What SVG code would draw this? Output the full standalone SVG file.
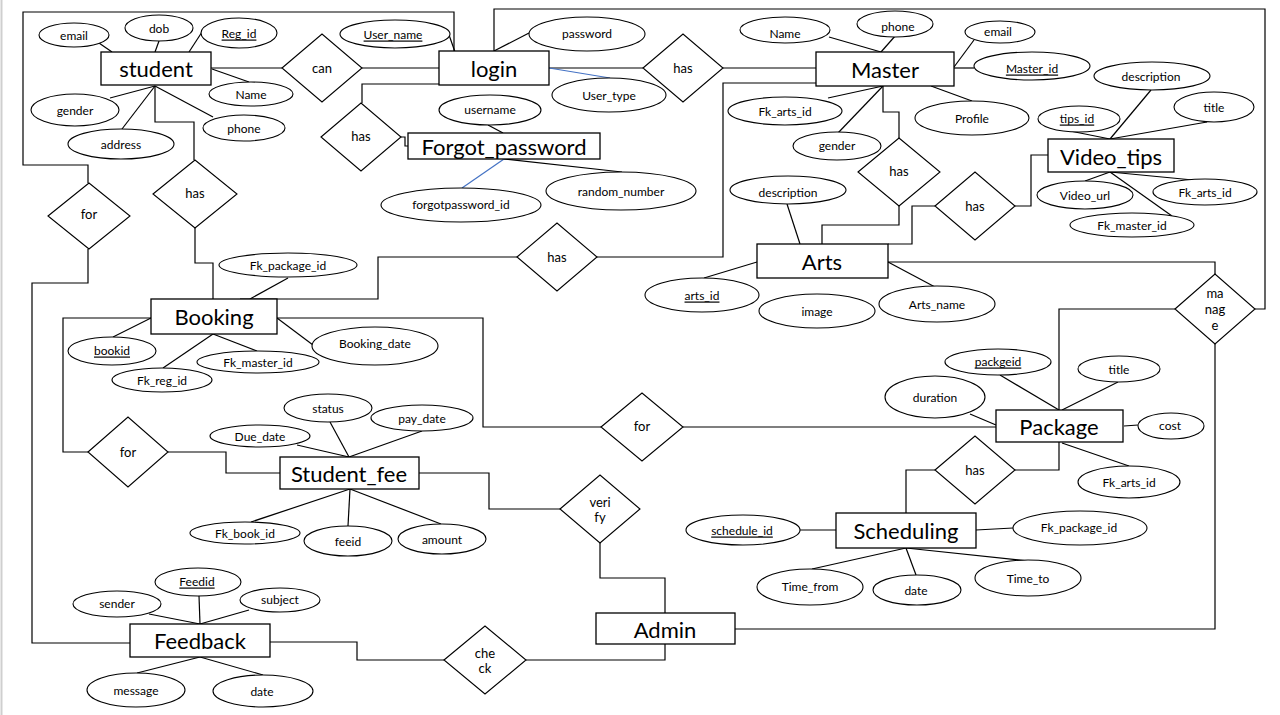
<svg xmlns="http://www.w3.org/2000/svg" width="1280" height="715" viewBox="0 0 1280 715">
<style>
.bg{fill:#ffffff}
.ent rect{fill:#ffffff;stroke:#000;stroke-width:1.3}
.ent text{font-family:Lato,"Open Sans","Liberation Sans",sans-serif;font-size:22px;fill:#000;text-anchor:middle;dominant-baseline:central}
.attr ellipse{fill:#ffffff;stroke:#000;stroke-width:1.1}
.attr text{font-family:Lato,"Open Sans","Liberation Sans",sans-serif;font-size:12px;fill:#000;text-anchor:middle;dominant-baseline:central}
.key text{text-decoration:underline}
.rel polygon{fill:#ffffff;stroke:#000;stroke-width:1.1}
.rel text{font-family:Lato,"Open Sans","Liberation Sans",sans-serif;font-size:13px;fill:#000;text-anchor:middle;dominant-baseline:central}
.conn path{fill:none;stroke:#000;stroke-width:1.2}
.conn path.blue{stroke:#4472C4}
</style>
<rect class="bg" x="0" y="0" width="1280" height="715"/>
<line x1="1.5" y1="0" x2="1.5" y2="715" stroke="#cfcfcf" stroke-width="2"/>

<g id="connectors" class="conn">
<path d="M454,51 V12 H23 V165 H88 V183"/>
<path d="M88,249 V283 H32 V643 H130"/>
<path d="M448,32 L455,52"/>
<path d="M211,68 H282"/>
<path d="M362,68 H439"/>
<path d="M439,84 H362 V103"/>
<path d="M401,137 H405 V146 H408"/>
<path d="M494,51 L529,33"/>
<path d="M494,51 V9 H1265 V309 H1255"/>
<path d="M549,68 H643"/>
<path d="M723,68 H816"/>
<path class="blue" d="M549,68 L610,78"/>
<path d="M488,125 L503,133"/>
<path class="blue" d="M504,159 L462,188"/>
<path d="M504,159 L622,172"/>
<path d="M99,43 L112,52"/>
<path d="M159,41 L155,52"/>
<path d="M202,32 L189,52"/>
<path d="M212,69 L249,82"/>
<path d="M110,98 L155,86"/>
<path d="M122,129 L155,86"/>
<path d="M213,117 L155,86"/>
<path d="M155,86 V122 H194 V160"/>
<path d="M195,228 V263 H213 V299"/>
<path d="M817,83 H723 V257 H597"/>
<path d="M517,257 H378 V299 H240"/>
<path d="M288,278 L250,299"/>
<path d="M829,37 L881,52"/>
<path d="M896,35 L881,52"/>
<path d="M974,40 L954,67"/>
<path d="M954,68 H974"/>
<path d="M828,98 L883,86"/>
<path d="M837,134 L883,86"/>
<path d="M931,86 L972,101"/>
<path d="M883,86 V112 H899 V138"/>
<path d="M899,206 V225 H822 V244"/>
<path d="M787,204 L800,244"/>
<path d="M1015,206 H1031 V155 H1048"/>
<path d="M935,206 H912 V244 H888"/>
<path d="M1070,131 L1110,139"/>
<path d="M1151,90 L1110,139"/>
<path d="M1207,122 L1110,139"/>
<path d="M1110,172 L1085,181"/>
<path d="M1110,172 L1193,180"/>
<path d="M1110,172 L1172,216"/>
<path d="M704,278 L757,262"/>
<path d="M888,262 L935,287"/>
<path d="M888,262 H1215 V274"/>
<path d="M1175,309 H1059 V410"/>
<path d="M735,629 H1215 V344"/>
<path d="M151,318 H63 V452 H88"/>
<path d="M168,452 H226 V473 H280"/>
<path d="M277,318 H483 V427 H601"/>
<path d="M683,427 H996"/>
<path d="M113,337 L151,318"/>
<path d="M163,368 L213,334"/>
<path d="M213,334 L257,351"/>
<path d="M277,318 L313,345"/>
<path d="M297,445 L349,457"/>
<path d="M330,422 L349,457"/>
<path d="M422,431 L349,457"/>
<path d="M350,489 L251,522"/>
<path d="M350,489 L348,526"/>
<path d="M350,489 L441,524"/>
<path d="M419,473 H489 V509 H560"/>
<path d="M600,543 V578 H665 V613"/>
<path d="M665,644 V660 H526"/>
<path d="M444,660 H357 V642 H270"/>
<path d="M149,614 L200,624"/>
<path d="M199,596 L200,624"/>
<path d="M249,610 L200,624"/>
<path d="M200,657 L137,673"/>
<path d="M200,657 L263,675"/>
<path d="M1000,375 L1059,410"/>
<path d="M1118,382 L1062,410"/>
<path d="M970,414 L996,425"/>
<path d="M1124,426 L1138,425"/>
<path d="M1062,443 L1129,466"/>
<path d="M1059,442 V470 H1015"/>
<path d="M935,470 H906 V513"/>
<path d="M800,530 H836"/>
<path d="M976,530 L1013,528"/>
<path d="M906,548 L812,569"/>
<path d="M906,548 L916,575"/>
<path d="M906,548 L1029,561"/>
</g>

<g id="student" class="ent"><rect x="101" y="52" width="110" height="33"/><text x="156" y="68">student</text></g>
<g id="login" class="ent"><rect x="439" y="51" width="110" height="34"/><text x="494" y="68">login</text></g>
<g id="forgot_password" class="ent"><rect x="408" y="133" width="192" height="26"/><text x="504" y="146">Forgot_password</text></g>
<g id="master" class="ent"><rect x="816" y="52" width="138" height="34"/><text x="885" y="69">Master</text></g>
<g id="video_tips" class="ent"><rect x="1048" y="139" width="126" height="33"/><text x="1111" y="156">Video_tips</text></g>
<g id="arts" class="ent"><rect x="757" y="244" width="131" height="34"/><text x="822" y="261">Arts</text></g>
<g id="booking" class="ent"><rect x="151" y="299" width="126" height="35"/><text x="214" y="316">Booking</text></g>
<g id="package" class="ent"><rect x="996" y="410" width="127" height="32"/><text x="1059" y="426">Package</text></g>
<g id="student_fee" class="ent"><rect x="280" y="457" width="139" height="32"/><text x="349" y="473">Student_fee</text></g>
<g id="scheduling" class="ent"><rect x="836" y="513" width="140" height="35"/><text x="906" y="530">Scheduling</text></g>
<g id="admin" class="ent"><rect x="596" y="613" width="139" height="31"/><text x="665" y="629">Admin</text></g>
<g id="feedback" class="ent"><rect x="130" y="624" width="140" height="33"/><text x="200" y="640">Feedback</text></g>

<g id="rel_can" class="rel"><polygon points="282,68 322,34 362,68 322,102"/><text x="322" y="68">can</text></g>
<g id="rel_has_forgot" class="rel"><polygon points="321,137 361,103 401,137 361,171"/><text x="361" y="136">has</text></g>
<g id="rel_has_master" class="rel"><polygon points="643,68 683,34 723,68 683,102"/><text x="683" y="68">has</text></g>
<g id="rel_for_feedback" class="rel"><polygon points="48,216 89,183 130,216 89,249"/><text x="89" y="214">for</text></g>
<g id="rel_has_booking" class="rel"><polygon points="153,194 195,160 237,194 195,228"/><text x="195" y="193">has</text></g>
<g id="rel_has_arts" class="rel"><polygon points="858,172 899,138 940,172 899,206"/><text x="899" y="171">has</text></g>
<g id="rel_has_video" class="rel"><polygon points="935,206 975,172 1015,206 975,240"/><text x="975" y="206">has</text></g>
<g id="rel_has_bm" class="rel"><polygon points="517,257 557,223 597,257 557,291"/><text x="557" y="257">has</text></g>
<g id="rel_manage" class="rel"><polygon points="1175,309 1215,274 1255,309 1215,344"/><text x="1215" y="293">ma</text><text x="1215" y="309">nag</text><text x="1215" y="325">e</text></g>
<g id="rel_for_fee" class="rel"><polygon points="88,452 128,417 168,452 128,487"/><text x="128" y="452">for</text></g>
<g id="rel_for_package" class="rel"><polygon points="601,427 642,393 683,427 642,461"/><text x="642" y="426">for</text></g>
<g id="rel_has_sched" class="rel"><polygon points="935,470 975,436 1015,470 975,504"/><text x="975" y="470">has</text></g>
<g id="rel_verify" class="rel"><polygon points="560,509 600,475 640,509 600,543"/><text x="600" y="502">veri</text><text x="600" y="517">fy</text></g>
<g id="rel_check" class="rel"><polygon points="444,660 485,626 526,660 485,694"/><text x="485" y="653">che</text><text x="485" y="668">ck</text></g>

<g id="attr_student_email" class="attr"><ellipse cx="74" cy="35" rx="35" ry="12"/><text x="74" y="35">email</text></g>
<g id="attr_student_dob" class="attr"><ellipse cx="159" cy="28" rx="34" ry="13"/><text x="159" y="28">dob</text></g>
<g id="attr_student_regid" class="attr key"><ellipse cx="239" cy="33" rx="38" ry="15"/><text x="239" y="33">Reg_id</text></g>
<g id="attr_student_name" class="attr"><ellipse cx="251" cy="94" rx="42" ry="12"/><text x="251" y="94">Name</text></g>
<g id="attr_student_phone" class="attr"><ellipse cx="244" cy="128" rx="41" ry="13"/><text x="244" y="128">phone</text></g>
<g id="attr_student_gender" class="attr"><ellipse cx="75" cy="110" rx="44" ry="16"/><text x="75" y="110">gender</text></g>
<g id="attr_student_address" class="attr"><ellipse cx="121" cy="144" rx="53" ry="15"/><text x="121" y="144">address</text></g>
<g id="attr_login_username" class="attr key"><ellipse cx="395" cy="34" rx="55" ry="14"/><text x="393" y="34">User_name</text></g>
<g id="attr_login_password" class="attr"><ellipse cx="587" cy="34" rx="58" ry="17"/><text x="587" y="33">password</text></g>
<g id="attr_login_usertype" class="attr"><ellipse cx="609" cy="95" rx="57" ry="17"/><text x="609" y="95">User_type</text></g>
<g id="attr_fp_username" class="attr"><ellipse cx="490" cy="110" rx="51" ry="15"/><text x="490" y="109">username</text></g>
<g id="attr_fp_id" class="attr"><ellipse cx="461" cy="205" rx="80" ry="17"/><text x="461" y="204">forgotpassword_id</text></g>
<g id="attr_fp_random" class="attr"><ellipse cx="621" cy="191" rx="75" ry="19"/><text x="621" y="191">random_number</text></g>
<g id="attr_master_name" class="attr"><ellipse cx="785" cy="30" rx="45" ry="13"/><text x="785" y="33">Name</text></g>
<g id="attr_master_phone" class="attr"><ellipse cx="895" cy="24" rx="38" ry="13"/><text x="898" y="26">phone</text></g>
<g id="attr_master_email" class="attr"><ellipse cx="1000" cy="32" rx="35" ry="11"/><text x="998" y="31">email</text></g>
<g id="attr_master_id" class="attr key"><ellipse cx="1032" cy="66" rx="58" ry="14"/><text x="1032" y="68">Master_id</text></g>
<g id="attr_master_fkarts" class="attr"><ellipse cx="785" cy="111" rx="57" ry="14"/><text x="785" y="111">Fk_arts_id</text></g>
<g id="attr_master_gender" class="attr"><ellipse cx="837" cy="146" rx="44" ry="14"/><text x="837" y="145">gender</text></g>
<g id="attr_master_profile" class="attr"><ellipse cx="972" cy="118" rx="57" ry="17"/><text x="972" y="118">Profile</text></g>
<g id="attr_video_description" class="attr"><ellipse cx="1152" cy="76" rx="58" ry="14"/><text x="1151" y="76">description</text></g>
<g id="attr_video_title" class="attr"><ellipse cx="1214" cy="107" rx="40" ry="15"/><text x="1214" y="107">title</text></g>
<g id="attr_video_tipsid" class="attr key"><ellipse cx="1079" cy="119" rx="41" ry="13"/><text x="1077" y="118">tips_id</text></g>
<g id="attr_video_url" class="attr"><ellipse cx="1085" cy="195" rx="48" ry="14"/><text x="1085" y="195">Video_url</text></g>
<g id="attr_video_fkarts" class="attr"><ellipse cx="1205" cy="192" rx="52" ry="13"/><text x="1205" y="192">Fk_arts_id</text></g>
<g id="attr_video_fkmaster" class="attr"><ellipse cx="1132" cy="225" rx="62" ry="12"/><text x="1132" y="225">Fk_master_id</text></g>
<g id="attr_arts_description" class="attr"><ellipse cx="788" cy="190" rx="58" ry="14"/><text x="788" y="192">description</text></g>
<g id="attr_arts_id" class="attr key"><ellipse cx="702" cy="295" rx="57" ry="17"/><text x="702" y="295">arts_id</text></g>
<g id="attr_arts_image" class="attr"><ellipse cx="817" cy="311" rx="58" ry="17"/><text x="817" y="311">image</text></g>
<g id="attr_arts_name" class="attr"><ellipse cx="937" cy="304" rx="58" ry="18"/><text x="937" y="304">Arts_name</text></g>
<g id="attr_booking_fkpackage" class="attr"><ellipse cx="288" cy="265" rx="69" ry="12"/><text x="288" y="265">Fk_package_id</text></g>
<g id="attr_booking_id" class="attr key"><ellipse cx="112" cy="351" rx="44" ry="14"/><text x="112" y="350">bookid</text></g>
<g id="attr_booking_fkreg" class="attr"><ellipse cx="162" cy="380" rx="50" ry="12"/><text x="162" y="380">Fk_reg_id</text></g>
<g id="attr_booking_fkmaster" class="attr"><ellipse cx="258" cy="362" rx="61" ry="11"/><text x="258" y="362">Fk_master_id</text></g>
<g id="attr_booking_date" class="attr"><ellipse cx="375" cy="346" rx="63" ry="19"/><text x="375" y="343">Booking_date</text></g>
<g id="attr_fee_duedate" class="attr"><ellipse cx="260" cy="436" rx="50" ry="11"/><text x="260" y="436">Due_date</text></g>
<g id="attr_fee_status" class="attr"><ellipse cx="328" cy="408" rx="44" ry="14"/><text x="328" y="408">status</text></g>
<g id="attr_fee_paydate" class="attr"><ellipse cx="422" cy="418" rx="51" ry="13"/><text x="422" y="418">pay_date</text></g>
<g id="attr_fee_fkbook" class="attr"><ellipse cx="245" cy="533" rx="55" ry="11"/><text x="245" y="533">Fk_book_id</text></g>
<g id="attr_fee_id" class="attr"><ellipse cx="348" cy="541" rx="44" ry="15"/><text x="348" y="541">feeid</text></g>
<g id="attr_fee_amount" class="attr"><ellipse cx="442" cy="539" rx="44" ry="15"/><text x="442" y="539">amount</text></g>
<g id="attr_package_id" class="attr key"><ellipse cx="998" cy="362" rx="53" ry="13"/><text x="998" y="361">packgeid</text></g>
<g id="attr_package_title" class="attr"><ellipse cx="1119" cy="369" rx="41" ry="13"/><text x="1119" y="369">title</text></g>
<g id="attr_package_duration" class="attr"><ellipse cx="935" cy="397" rx="50" ry="21"/><text x="935" y="397">duration</text></g>
<g id="attr_package_cost" class="attr"><ellipse cx="1171" cy="426" rx="33" ry="13"/><text x="1170" y="425">cost</text></g>
<g id="attr_package_fkarts" class="attr"><ellipse cx="1129" cy="482" rx="51" ry="16"/><text x="1129" y="482">Fk_arts_id</text></g>
<g id="attr_sched_id" class="attr key"><ellipse cx="743" cy="530" rx="57" ry="15"/><text x="742" y="530">schedule_id</text></g>
<g id="attr_sched_fkpackage" class="attr"><ellipse cx="1080" cy="528" rx="67" ry="17"/><text x="1079" y="527">Fk_package_id</text></g>
<g id="attr_sched_timefrom" class="attr"><ellipse cx="810" cy="587" rx="53" ry="18"/><text x="810" y="586">Time_from</text></g>
<g id="attr_sched_date" class="attr"><ellipse cx="917" cy="590" rx="44" ry="15"/><text x="916" y="590">date</text></g>
<g id="attr_sched_timeto" class="attr"><ellipse cx="1028" cy="578" rx="53" ry="18"/><text x="1028" y="578">Time_to</text></g>
<g id="attr_feedback_id" class="attr key"><ellipse cx="198" cy="582" rx="43" ry="14"/><text x="197" y="581">Feedid</text></g>
<g id="attr_feedback_sender" class="attr"><ellipse cx="117" cy="604" rx="44" ry="13"/><text x="117" y="603">sender</text></g>
<g id="attr_feedback_subject" class="attr"><ellipse cx="280" cy="600" rx="40" ry="12"/><text x="280" y="599">subject</text></g>
<g id="attr_feedback_message" class="attr"><ellipse cx="136" cy="690" rx="49" ry="17"/><text x="136" y="690">message</text></g>
<g id="attr_feedback_date" class="attr"><ellipse cx="263" cy="691" rx="50" ry="16"/><text x="262" y="691">date</text></g>
</svg>
